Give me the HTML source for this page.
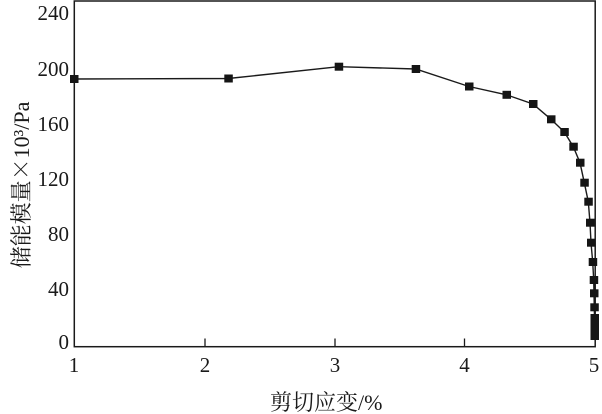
<!DOCTYPE html>
<html><head><meta charset="utf-8"><style>
html,body{margin:0;padding:0;background:#fff;}
svg{display:block;}
text{font-family:"Liberation Serif","Noto Serif CJK SC",serif;fill:#1a1a1a;}
</style></head><body>
<svg width="602" height="414" viewBox="0 0 602 414" xmlns="http://www.w3.org/2000/svg">
<rect x="0" y="0" width="602" height="414" fill="#fff"/>
<!-- frame -->
<rect x="74.3" y="1" width="520.9" height="345.7" fill="none" stroke="#1a1a1a" stroke-width="1.5"/>
<!-- x ticks -->
<g stroke="#1a1a1a" stroke-width="1.3">
<line x1="205" y1="346.5" x2="205" y2="338.5"/>
<line x1="335" y1="346.5" x2="335" y2="338.5"/>
<line x1="464.5" y1="346.5" x2="464.5" y2="338.5"/>
</g>
<!-- y labels -->
<g font-size="21" text-anchor="end">
<text x="69" y="20">240</text>
<text x="69" y="76">200</text>
<text x="69" y="131">160</text>
<text x="69" y="186">120</text>
<text x="69" y="241">80</text>
<text x="69" y="296">40</text>
<text x="69" y="349">0</text>
</g>
<!-- x labels -->
<g font-size="21" text-anchor="middle">
<text x="74" y="372">1</text>
<text x="205" y="372">2</text>
<text x="335" y="372">3</text>
<text x="464.5" y="372">4</text>
<text x="594" y="372">5</text>
</g>
<!-- titles -->
<text x="270" y="410" font-size="22">剪切应变/%</text>
<text transform="translate(29,185) rotate(-90)" font-size="22" text-anchor="middle">储能模量<tspan font-family="Noto Serif CJK SC, serif">×</tspan>10³/Pa</text>
<!-- series -->
<polyline fill="none" stroke="#1a1a1a" stroke-width="1.4" points="74,79 228.3,78.5 338.7,66.7 415.7,69 469,86.5 506.5,94.8 533,104 551,119.3 564.3,132 573.3,146.7 580,162.7 584.3,182.7 588.3,201.7 590,222.7 591,242.7 592.7,262 593.7,280 594,293.3 594.3,307.3 594.5,318 594.5,325 594.5,331 594.5,336"/>
<g fill="#151515">
<rect x="70" y="75" width="8.5" height="8"/>
<rect x="224.3" y="74.5" width="8.5" height="8"/>
<rect x="334.7" y="62.7" width="8.5" height="8"/>
<rect x="411.7" y="65" width="8.5" height="8"/>
<rect x="465" y="82.5" width="8.5" height="8"/>
<rect x="502.5" y="90.8" width="8.5" height="8"/>
<rect x="529" y="100" width="8.5" height="8"/>
<rect x="547" y="115.3" width="8.5" height="8"/>
<rect x="560.3" y="128" width="8.5" height="8"/>
<rect x="569.3" y="142.7" width="8.5" height="8"/>
<rect x="576" y="158.7" width="8.5" height="8"/>
<rect x="580.3" y="178.7" width="8.5" height="8"/>
<rect x="584.3" y="197.7" width="8.5" height="8"/>
<rect x="586" y="218.7" width="8.5" height="8"/>
<rect x="587" y="238.7" width="8.5" height="8"/>
<rect x="588.7" y="258" width="8.5" height="8"/>
<rect x="589.7" y="276" width="8.5" height="8"/>
<rect x="590" y="289.3" width="8.5" height="8"/>
<rect x="590.3" y="303.3" width="8.5" height="8"/>
<rect x="590.5" y="314" width="8.5" height="8"/>
<rect x="590.5" y="321" width="8.5" height="8"/>
<rect x="590.5" y="327" width="8.5" height="8"/>
<rect x="590.5" y="332" width="8.5" height="8"/>
</g>
</svg>
</body></html>
